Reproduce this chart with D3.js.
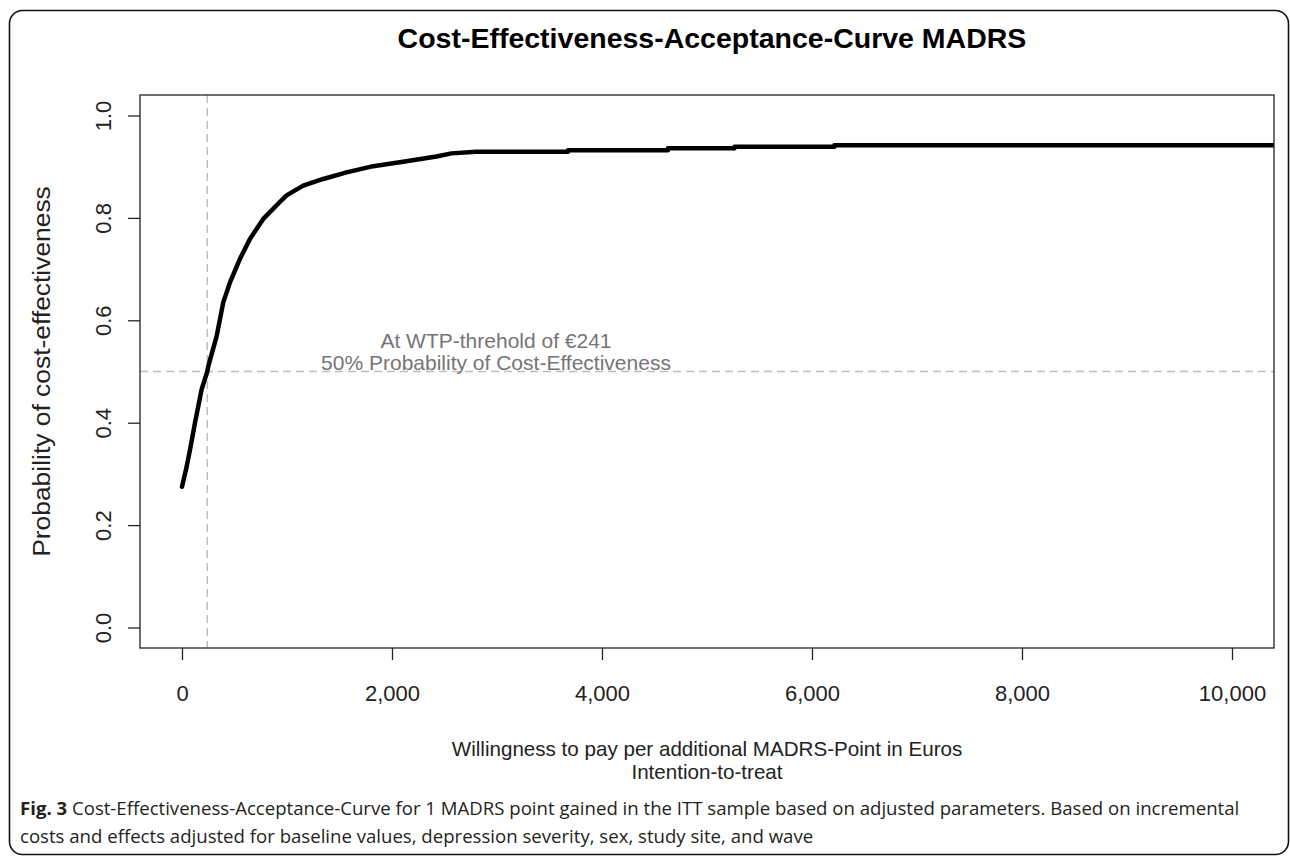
<!DOCTYPE html>
<html>
<head>
<meta charset="utf-8">
<script src="https://cdn.jsdelivr.net/npm/d3@7"></script>
<style>
  body { margin: 0; background: #fff; }
  svg text { font-family: "Liberation Sans", Arial, sans-serif; }
</style>
</head>
<body>
<div id="chart"></div>
<script>
// willingness to pay (euros) and probability of cost-effectiveness
var wtp  = [0, 40, 76, 124, 187, 241, 250, 330, 393, 457, 552, 647, 774, 932, 996, 1154, 1345, 1567, 1821,
            2121, 2423, 2566, 2804, 3676, 3676, 4628, 4628, 5262, 5262, 6213, 6213, 10600];
var prob = [0.275, 0.31, 0.347, 0.40, 0.465, 0.50, 0.51, 0.569, 0.635, 0.674, 0.72, 0.759, 0.798, 0.831, 0.844, 0.863, 0.876, 0.889, 0.901,
            0.910, 0.920, 0.926, 0.929, 0.929, 0.932, 0.932, 0.936, 0.936, 0.939, 0.939, 0.942, 0.942];

var xTicks = [0, 2000, 4000, 6000, 8000, 10000];
var yTicks = [0, 0.2, 0.4, 0.6, 0.8, 1.0];

var threshold = 241;     // WTP at 50 %
var probLine = 0.5;

var title = "Cost-Effectiveness-Acceptance-Curve MADRS";
var yTitle = "Probability of cost-effectiveness";
var xTitle = ["Willingness to pay per additional MADRS-Point in Euros", "Intention-to-treat"];
var note = ["At WTP-threhold of \u20ac241", "50% Probability of Cost-Effectiveness"];
var captionBold = "Fig. 3";
var caption = ["Cost-Effectiveness-Acceptance-Curve for 1 MADRS point gained in the ITT sample based on adjusted parameters. Based on incremental",
               "costs and effects adjusted for baseline values, depression severity, sex, study site, and wave"];

var width = 1290, height = 860;
var plot = {left: 140, right: 1274, top: 95, bottom: 648};

var svg = d3.select("#chart").append("svg")
    .attr("width", width)
    .attr("height", height);

//outer rounded frame
svg.append("rect")
    .attr("x", 9.5).attr("y", 10.5)
    .attr("width", 1279).attr("height", 844)
    .attr("rx", 13)
    .attr("fill", "none")
    .attr("stroke", "#111")
    .attr("stroke-width", 1.6);

//scales, R style 4% padding
var x = d3.scaleLinear().domain([-400, 10400]).range([plot.left, plot.right]);
var y = d3.scaleLinear().domain([-0.04, 1.04]).range([plot.bottom, plot.top]);

svg.append("clipPath").attr("id", "clip")
  .append("rect")
    .attr("x", plot.left).attr("y", plot.top)
    .attr("width", plot.right - plot.left).attr("height", plot.bottom - plot.top);

//title
svg.append("text")
    .attr("x", 712)
    .attr("y", 48)
    .attr("text-anchor", "middle")
    .style("font-size", "28.5px")
    .style("font-weight", "bold")
    .attr("fill", "#000")
    .text(title);

//reference lines
svg.append("line")
    .attr("x1", x(threshold)).attr("x2", x(threshold))
    .attr("y1", plot.top).attr("y2", plot.bottom)
    .attr("stroke", "#bdbdbd").attr("stroke-width", 1.5)
    .attr("stroke-dasharray", "8,5");

svg.append("line")
    .attr("x1", plot.left).attr("x2", plot.right)
    .attr("y1", y(probLine)).attr("y2", y(probLine))
    .attr("stroke", "#bdbdbd").attr("stroke-width", 1.5)
    .attr("stroke-dasharray", "8,5");

//annotation
svg.append("g").selectAll("text")
    .data(note).enter()
    .append("text")
    .attr("x", 496)
    .attr("y", function(d, i) { return 348 + i * 22; })
    .attr("text-anchor", "middle")
    .style("font-size", "21px")
    .attr("fill", "#757575")
    .text(function(d) { return d; });

//the curve
var points = wtp.map(function(d, i) { return [d, prob[i]]; });
var line = d3.line()
    .x(function(d) { return x(d[0]); })
    .y(function(d) { return y(d[1]); });

svg.append("path")
    .datum(points)
    .attr("clip-path", "url(#clip)")
    .attr("d", line)
    .attr("fill", "none")
    .attr("stroke", "#000")
    .attr("stroke-width", 4.5)
    .attr("stroke-linejoin", "round")
    .attr("stroke-linecap", "round");

//box
svg.append("rect")
    .attr("x", plot.left).attr("y", plot.top)
    .attr("width", plot.right - plot.left).attr("height", plot.bottom - plot.top)
    .attr("fill", "none")
    .attr("stroke", "#222")
    .attr("stroke-width", 1.3);

//x axis
var xAxis = svg.append("g")
    .attr("transform", "translate(0," + plot.bottom + ")")
    .call(d3.axisBottom(x).tickValues(xTicks).tickFormat(d3.format(",")).tickSize(12).tickPadding(25));
xAxis.select(".domain").remove();
xAxis.selectAll("line").attr("stroke", "#222").attr("stroke-width", 1.3);
xAxis.selectAll("text")
    .attr("fill", "#222")
    .style("font-size", "22px")
    .style("font-family", "'Liberation Sans', Arial, sans-serif");

//y axis, labels parallel to axis
var yAxis = svg.append("g")
    .attr("transform", "translate(" + plot.left + ",0)")
    .call(d3.axisLeft(y).tickValues(yTicks).tickFormat(d3.format(".1f")).tickSize(12));
yAxis.select(".domain").remove();
yAxis.selectAll("line").attr("stroke", "#222").attr("stroke-width", 1.3);
yAxis.selectAll("text")
    .attr("x", 0)
    .attr("y", -29)
    .attr("dy", 0)
    .attr("transform", "rotate(-90)")
    .attr("text-anchor", "middle")
    .attr("fill", "#222")
    .style("font-size", "22px")
    .style("font-family", "'Liberation Sans', Arial, sans-serif");

//axis titles
svg.append("text")
    .attr("transform", "translate(50," + y(0.5) + ") rotate(-90) scale(1.1,1)")
    .attr("text-anchor", "middle")
    .style("font-size", "24px")
    .attr("fill", "#222")
    .text(yTitle);

svg.append("g").selectAll("text")
    .data(xTitle).enter()
    .append("text")
    .attr("x", (plot.left + plot.right) / 2)
    .attr("y", function(d, i) { return 756 + i * 23; })
    .attr("text-anchor", "middle")
    .style("font-size", "20.6px")
    .attr("fill", "#222")
    .text(function(d) { return d; });

//figure caption
svg.append("g").selectAll("text")
    .data(caption).enter()
    .append("text")
    .attr("x", 20)
    .attr("y", function(d, i) { return 815 + i * 28; })
    .style("font-family", "'Open Sans', 'Noto Sans', sans-serif")
    .style("font-size", "18.6px")
    .attr("fill", "#231f20")
    .each(function(d, i) {
        var t = d3.select(this);
        if (i === 0) {
            t.append("tspan").style("font-weight", "bold").text(captionBold + " ");
        }
        t.append("tspan").text(d);
    });
</script>
</body>
</html>
